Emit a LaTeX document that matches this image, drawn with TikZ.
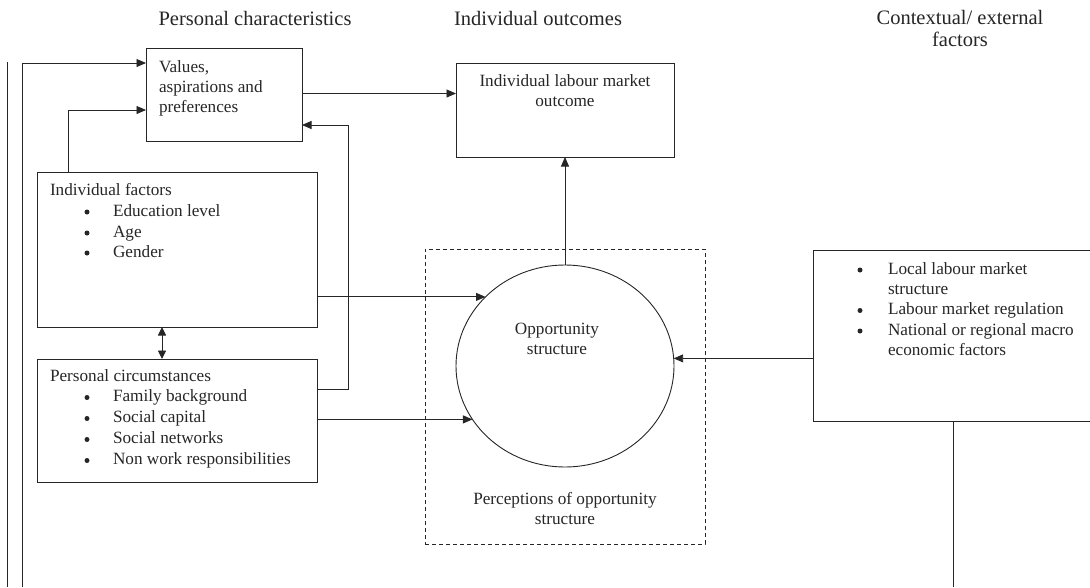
\documentclass[tikz,border=0pt]{standalone}
\usepackage{fontspec}
\setmainfont{Liberation Serif}
\usetikzlibrary{arrows.meta,shapes.geometric}
\begin{document}
\begin{tikzpicture}[x=1pt,y=-1pt,
  line width=0.9pt,
  every node/.style={inner sep=0pt, outer sep=0pt},
  box/.style={draw=black!85, rectangle},
  txt/.style={anchor=mid west, yshift=-2pt, font=\fontsize{17.2}{20.7}\selectfont, text=black!85},
  ctxt/.style={anchor=mid, yshift=-2pt, font=\fontsize{17.2}{20.7}\selectfont, text=black!85},
  htxt/.style={anchor=mid, yshift=-2pt, font=\fontsize{20.5}{22}\selectfont, text=black!85},
  bul/.style={circle, fill=black!85, minimum size=5pt},
  arr/.style={draw=black!85, -{Triangle[length=9.5pt,width=8pt]}},
  dbl/.style={draw=black!85, {Triangle[length=8.5pt,width=8pt]}-{Triangle[length=8.5pt,width=8pt]}},
  ln/.style={draw=black!85}]
\useasboundingbox (0,0) rectangle (1090,587);

% headers
\node[htxt] (h1) at (255,21) {Personal characteristics};
\node[htxt] (h2) at (538,21) {Individual outcomes};
\node[htxt] (h3) at (960,20) {Contextual/ external};
\node[htxt] (h3b) at (960,42) {factors};

% boxes
\node[box, minimum width=156, minimum height=93] (val) at (224,94.5) {};
\node[box, minimum width=218, minimum height=94] (out) at (565,110) {};
\node[box, minimum width=280, minimum height=155] (ind) at (177,249.5) {};
\node[box, minimum width=280, minimum height=123] (pc) at (177,420.5) {};
\node[box, minimum width=280, minimum height=171] (ext) at (953,335.5) {};
\node[draw=black!85, dash pattern=on 4pt off 3pt, minimum width=280, minimum height=295] (perc) at (565,396.5) {};
\node[draw=black!85, ellipse, minimum width=218, minimum height=202] (circ) at (565,366) {};

% texts
\node[txt] (vt) at (159,68) {Values,};
\node[txt] (vt2) at (159,88) {aspirations and};
\node[txt] (vt3) at (159,108) {preferences};

\node[ctxt] (ot) at (565,82) {Individual labour market};
\node[ctxt] (ot2) at (565,102) {outcome};

\node[txt] (it) at (50,191) {Individual factors};
\node[bul] (ib1) at (87,212) {};
\node[txt] (it1) at (113,212) {Education level};
\node[bul] (ib2) at (87,233) {};
\node[txt] (it2) at (113,233) {Age};
\node[bul] (ib3) at (87,253) {};
\node[txt] (it3) at (113,253) {Gender};

\node[txt] (pt) at (50,377) {Personal circumstances};
\node[bul] (pb1) at (87,397.5) {};
\node[txt] (pt1) at (113,397.5) {Family background};
\node[bul] (pb2) at (87,418.5) {};
\node[txt] (pt2) at (113,418.5) {Social capital};
\node[bul] (pb3) at (87,439.5) {};
\node[txt] (pt3) at (113,439.5) {Social networks};
\node[bul] (pb4) at (87,460.5) {};
\node[txt] (pt4) at (113,460.5) {Non work responsibilities};

\node[bul] (eb1) at (860,270) {};
\node[txt] (et1) at (888,270) {Local labour market};
\node[txt] (et1b) at (888,290) {structure};
\node[bul] (eb2) at (860,310.5) {};
\node[txt] (et2) at (888,310.5) {Labour market regulation};
\node[bul] (eb3) at (860,331) {};
\node[txt] (et3) at (888,331) {National or regional macro};
\node[txt] (et3b) at (888,351.5) {economic factors};

\node[ctxt] (ct) at (557,330) {Opportunity};
\node[ctxt] (ct2) at (557,350) {structure};
\node[ctxt] (prt) at (565,500) {Perceptions of opportunity};
\node[ctxt] (prt2) at (565,520) {structure};

% free ends
\coordinate (b1) at (7,587);
\coordinate (t1) at (7,62);
\coordinate (b2) at (22,587);
\coordinate (bext) at (953,587);

% connectors
\draw[ln] (b1) -- (t1);
\draw[arr] (b2) |- (val.west |- 0,63);
\draw[arr] (ind.north -| 68,0) |- (val.west |- 0,110);
\draw[arr] (val.east |- 0,93.5) -- (out.west |- 0,93.5);
\draw[arr] (pc.east |- 0,389) -- ++(31,0) |- (val.east |- 0,125);
\draw[dbl] (ind.south -| 162,0) -- (pc.north -| 162,0);
\draw[arr] (ind.east |- circ.139.1) -- (circ.139.1);
\draw[arr] (pc.east |- circ.210.4) -- (circ.210.4);
\draw[arr] (ext.west |- circ.4.2) -- (circ.4.2);
\draw[arr] (circ.north) -- (out.south);
\draw[ln] (ext.south) -- (bext);
\end{tikzpicture}
\end{document}
